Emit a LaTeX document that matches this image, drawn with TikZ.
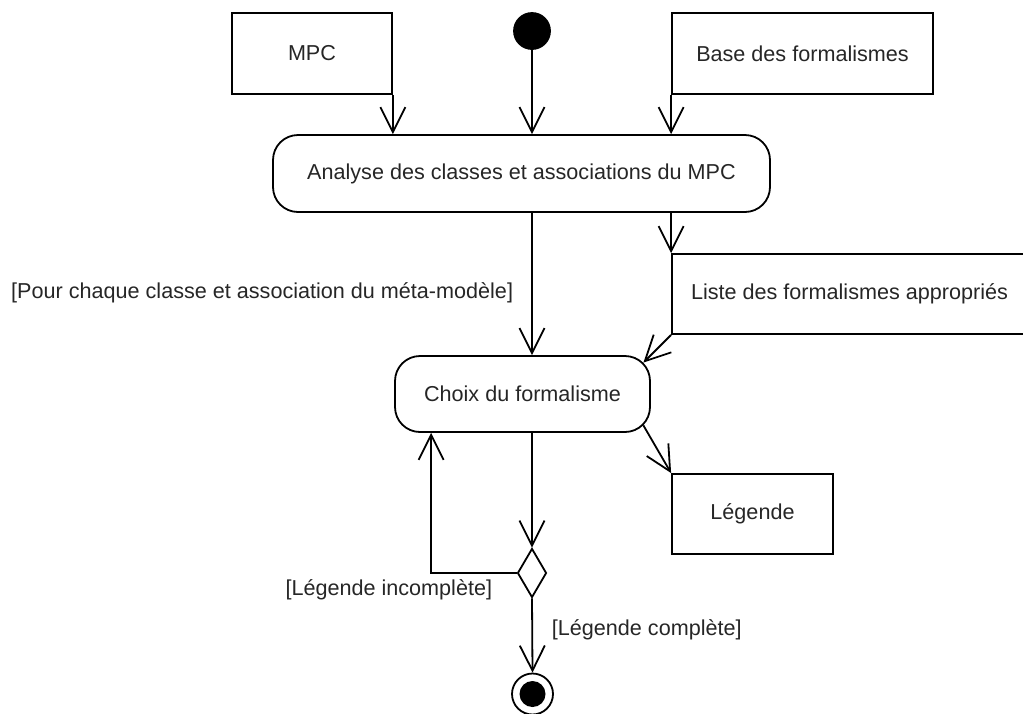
\documentclass[tikz,border=0pt]{standalone}
\usepackage{fontspec}
\setmainfont{Liberation Sans}
\usetikzlibrary{arrows.meta,shapes.geometric,calc}
\begin{document}
\begin{tikzpicture}[x=1pt,y=-1pt,
  font=\fontsize{21.6}{26}\selectfont,
  line width=1.8pt,
  every node/.style={inner sep=0pt,text=black!85},
  objbox/.style={draw,rectangle},
  actbox/.style={draw,rectangle,rounded corners=25pt},
  flow/.style={-{Straight Barb[length=25pt,width=25pt]}},
  guard/.style={inner sep=0pt}]
\useasboundingbox (0,0) rectangle (1023,713);
\clip (0,0) rectangle (1023,713);
% nodes
\node[objbox,minimum width=160pt,minimum height=81pt] (mpc) at (312,53.5) {MPC};
\node[objbox,minimum width=261pt,minimum height=81pt] (base) at (802.5,53.5) {Base des formalismes};
\node[draw,fill=black,circle,minimum size=36pt] (init) at (532,31) {};
\node[actbox,minimum width=497pt,minimum height=77pt] (analyse) at (521.5,173.5) {Analyse des classes et associations du MPC};
\node[objbox,minimum width=355pt,minimum height=80pt] (liste) at (849.5,294) {Liste des formalismes appropriés};
\node[actbox,minimum width=255pt,minimum height=76pt] (choix) at (522.5,394) {Choix du formalisme};
\node[objbox,minimum width=161pt,minimum height=80pt] (legende) at (752.5,514) {Légende};
\node[draw,diamond,minimum width=29pt,minimum height=49pt] (dec) at (532,573) {};
\node[draw,circle,minimum size=41pt] (final) at (532.5,694) {};
\fill (final.center) circle (13pt);
% corner points on the rounded box
\coordinate (choixNE) at ($(choix.north east)+(-7.5,7.5)$);
\coordinate (choixSE) at ($(choix.south east)+(-7.5,-7.5)$);
\coordinate (loopend) at ($(choix.south west)+(37,0)$);
% connectors
\draw[flow] (mpc.south east) -- (mpc.south east |- analyse.north);
\draw[flow] (init.south) -- (init.south |- analyse.north);
\draw[flow] (base.south west) -- (base.south west |- analyse.north);
\draw[flow] (init |- analyse.south) -- (init |- choix.north);
\node[guard,anchor=east] (g1) at (514,293) {[Pour chaque classe et association du méta-modèle]};
\draw[flow] (base.south west |- analyse.south) -- (liste.north west);
\draw[flow] (liste.south west) -- (choixNE);
\draw[flow] (choixSE) -- (legende.north west);
\draw[flow] (init |- choix.south) -- (dec.north);
\draw[flow] (dec.west) -| (loopend);
\node[guard,anchor=east] (g2) at (493,590) {[Légende incomplète]};
\draw[flow] (dec.south) -- (final.north);
\node[guard,anchor=west] (g3) at (551,630) {[Légende complète]};
\end{tikzpicture}
\end{document}
